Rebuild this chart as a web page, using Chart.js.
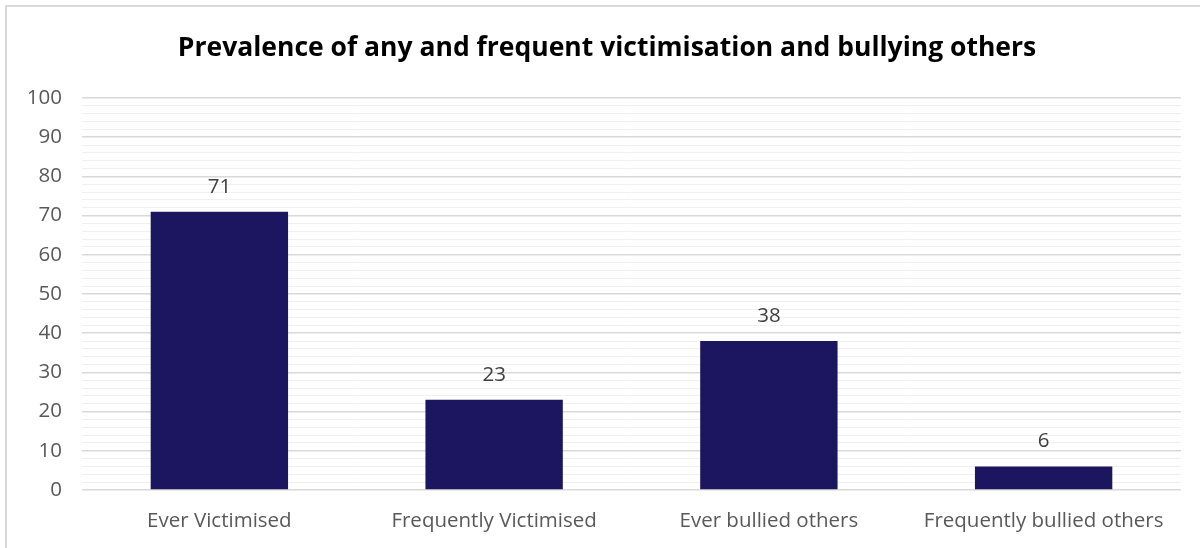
<!DOCTYPE html>
<html>
<head>
<meta charset="utf-8">
<script src="https://cdn.jsdelivr.net/npm/chart.js@4"></script>
<style>
  body { margin: 0; background: #fff; overflow: hidden; }
  #frame { position: absolute; left: 5px; top: 5px; width: 1300px; height: 700px; border: 2px solid #d9d9d9; }
  #wrap { position: absolute; left: 0; top: 0; width: 1200px; height: 548px; }
</style>
</head>
<body>
<div id="frame"></div>
<div id="wrap"><canvas id="chart"></canvas></div>
<script>
'use strict';

const chartTitle = 'Prevalence of any and frequent victimisation and bullying others';
const categories = ['Ever Victimised', 'Frequently Victimised', 'Ever bullied others', 'Frequently bullied others'];
const prevalence = [71, 23, 38, 6];
const yTickLabels = [0, 10, 20, 30, 40, 50, 60, 70, 80, 90, 100];

const FONT = '"Open Sans", Lato, sans-serif';

// ── Title (drawn by hand: it sits a little left of the plot's centre) ────────
const titleText = {
  id: 'titleText',
  afterDraw(chart) {
    const ctx = chart.ctx;
    ctx.save();
    ctx.font = `bold 26.5px ${FONT}`;
    ctx.fillStyle = '#000';
    ctx.textAlign = 'center';
    ctx.textBaseline = 'middle';
    ctx.fillText(chartTitle, 607, 48);
    ctx.restore();
  },
};

// ── Value labels above bars ──────────────────────────────────────────────────
const valueLabels = {
  id: 'valueLabels',
  afterDatasetsDraw(chart) {
    const ctx = chart.ctx;
    const meta = chart.getDatasetMeta(0);
    ctx.save();
    ctx.font = `20.5px ${FONT}`;
    ctx.fillStyle = '#404040';
    ctx.textAlign = 'center';
    ctx.textBaseline = 'middle';
    meta.data.forEach((bar, i) => {
      ctx.fillText(String(prevalence[i]), bar.x, bar.y - 25);
    });
    ctx.restore();
  },
};

new Chart(document.getElementById('chart'), {
  type: 'bar',
  data: {
    labels: categories,
    datasets: [{
      data: prevalence,
      backgroundColor: '#1c1660',
      borderWidth: 0,
      categoryPercentage: 1,
      barPercentage: 0.5,
    }],
  },
  options: {
    responsive: true,
    maintainAspectRatio: false,
    animation: false,
    layout: { padding: { left: 0, right: 19, top: 98, bottom: 0 } },
    plugins: {
      legend: { display: false },
      tooltip: { enabled: false },
      title: { display: false },
    },
    scales: {
      x: {
        grid: { display: false, drawTicks: false },
        border: { display: false },
        ticks: { color: '#595959', font: { family: FONT, size: 20.5 }, padding: 19 },
        afterFit: s => { s.height = 58; },
      },
      y: {
        min: 0,
        max: 100,
        border: { display: false },
        grid: {
          drawTicks: false,
          color: c => (c.tick.value % 10 === 0 ? '#d9d9d9' : '#f0f0f0'),
          lineWidth: c => (c.tick.value % 10 === 0 ? 1.5 : 1),
        },
        ticks: {
          stepSize: 2,
          autoSkip: false,
          padding: 20,
          color: '#595959',
          font: { family: FONT, size: 20.5 },
          callback: v => (yTickLabels.includes(v) ? String(v) : ''),
        },
        afterFit: s => { s.width = 82; },
      },
    },
  },
  plugins: [valueLabels, titleText],
});
</script>
</body>
</html>
